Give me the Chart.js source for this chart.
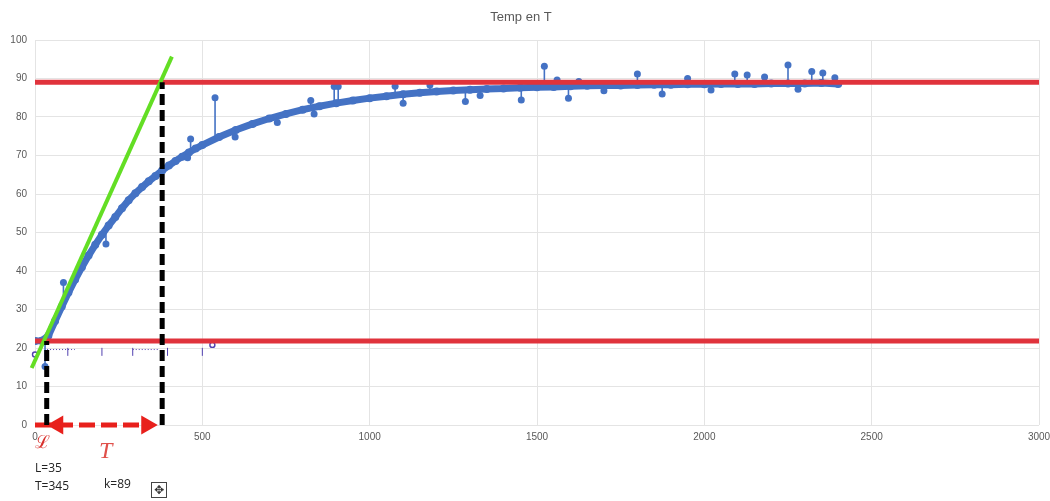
<!DOCTYPE html>
<html>
<head>
<meta charset="utf-8">
<title>Temp en T</title>
<script src="https://cdn.jsdelivr.net/npm/chart.js@4.4.1/dist/chart.umd.min.js"></script>
<style>
  html, body { margin: 0; padding: 0; background: #fff; }
  #wrap { position: relative; width: 1050px; height: 501px; overflow: hidden; }
  #chart { position: absolute; left: 0; top: 0; }
  .note { position: absolute; font: 12px "Open Sans", sans-serif; color: #222; }
  .hand { position: absolute; color: #d8302c; font-family: "Liberation Serif", serif; line-height: 1; }
  #move { position: absolute; left: 151px; top: 482px; width: 14px; height: 14px;
          border: 1px solid #444; font: 12px "DejaVu Sans", sans-serif; line-height: 14px;
          text-align: center; color: #333; }
</style>
</head>
<body>
<div id="wrap">
  <canvas id="chart" width="1050" height="501"></canvas>
  <div class="hand" style="left:35px;top:433px;font-size:18px;">ℒ</div>
  <div class="hand" style="left:99px;top:438px;font-size:24px;font-style:italic;color:#e0504a;">T</div>
  <div class="note" style="left:35px;top:459px;">L=35</div>
  <div class="note" style="left:35px;top:477px;">T=345</div>
  <div class="note" style="left:104px;top:475px;">k=89</div>
  <div id="move">✥</div>
</div>
<script>
/* Temp en T: step response with tangent construction (L, T, k). */

const L = 35;        // dead time
const T = 345;       // time constant
const K = 89;        // final value
const START = 21.8;  // initial temperature

// smooth part of the measured curve
const bandX = [0, 20, 40, 60, 80, 100, 120, 140, 160, 180, 200, 220, 240, 260, 280,
  300, 320, 340, 360, 380, 400, 420, 440, 460, 480, 500, 550, 600, 650, 700, 750,
  800, 850, 900, 950, 1000, 1050, 1100, 1150, 1200, 1250, 1300, 1350, 1400, 1450,
  1500, 1550, 1600, 1650, 1700, 1750, 1800, 1850, 1900, 1950, 2000, 2050, 2100,
  2150, 2200, 2250, 2300, 2350, 2400];
const bandY = [21.8, 21.9, 23.2, 27.0, 30.8, 34.4, 37.8, 41.0, 44.0, 46.8, 49.4,
  51.8, 54.0, 56.3, 58.4, 60.2, 61.8, 63.3, 64.7, 66.1, 67.4, 68.6, 69.7, 70.8,
  71.8, 72.7, 74.8, 76.6, 78.2, 79.6, 80.8, 81.9, 82.8, 83.6, 84.3, 84.9, 85.4,
  85.9, 86.3, 86.6, 86.9, 87.1, 87.3, 87.4, 87.6, 87.7, 87.8, 88.0, 88.1, 88.2,
  88.2, 88.3, 88.4, 88.4, 88.5, 88.5, 88.6, 88.6, 88.6, 88.7, 88.7, 88.7, 88.8, 88.6];

// isolated outliers (spikes up and dips down)
const spikeX = [30, 85, 212, 456, 465, 538, 598, 724, 824, 834, 894, 906, 1076,
  1100, 1180, 1286, 1330, 1453, 1522, 1560, 1594, 1625, 1700, 1800, 1874, 1950,
  2020, 2091, 2128, 2180, 2250, 2280, 2321, 2354, 2390];
const spikeBase = [22.3, 31.8, 50.8, 70.6, 71.0, 74.3, 76.5, 80.2, 82.3, 82.5,
  83.5, 83.7, 85.6, 85.9, 86.4, 87.0, 87.2, 87.6, 87.8, 87.9, 88.0, 88.1, 88.2,
  88.3, 88.4, 88.5, 88.6, 88.6, 88.6, 88.7, 88.7, 88.7, 88.7, 88.8, 88.7];
const spikeTop = [15.2, 37.0, 47.0, 69.4, 74.3, 85.0, 74.8, 78.6, 84.3, 80.8,
  87.9, 87.9, 88.0, 83.6, 88.3, 84.0, 85.6, 84.4, 93.2, 89.6, 84.9, 89.2, 86.8,
  91.2, 86.0, 90.0, 87.0, 91.2, 90.9, 90.4, 93.5, 87.2, 91.8, 91.4, 90.2];

// tangent at the inflection
const tangentX = [-10, 409];
const tangentY = [14.8, 95.7];

// leftover Excel marks near the start level
const purpleDashX = [36, 119, null, 292, 372];
const purpleTickX = [98, 200, 292, 396, 500];
const purpleRingX = [0, 530];
const purpleRingY = [18.3, 20.8];

const arrowHeadX = [68, 334];

const xTicks = { min: 0, max: 3000, step: 500 };
const yTicks = { min: 0, max: 100, step: 10 };

const BLUE = "#4472C4";
const RED = "#E0333C";
const PURPLE = "#5140B0";
const AXIS_FONT = { family: "'Liberation Sans', Arial, sans-serif", size: 10 };

const pts = (xs, ys) => xs.map((x, i) => ({ x, y: ys[i] }));

function spikePoints() {
  const out = [];
  spikeX.forEach((x, i) => {
    out.push({ x, y: spikeBase[i] }, { x, y: spikeTop[i], tip: true }, { x, y: null });
  });
  return out;
}

function vline(x, top) {
  return [{ x, y: 0 }, { x, y: top }];
}

const datasets = [
  { label: "L", data: vline(L, START), order: 0, showLine: true,
    borderColor: "#000", borderWidth: 5, borderDash: [11, 5], pointRadius: 0 },
  { label: "L+T", data: vline(L + T, K), order: 0, showLine: true,
    borderColor: "#000", borderWidth: 5, borderDash: [11, 5], pointRadius: 0 },
  { label: "span", data: [{ x: 0, y: 0 }, { x: L + T - 40, y: 0 }], order: 1,
    showLine: true, clip: false, borderColor: "#E8201C", borderWidth: 5,
    borderDash: [16, 6], pointRadius: 0 },
  { label: "heads", data: arrowHeadX.map((x) => ({ x, y: 0 })), order: 1,
    clip: false, pointStyle: "triangle", pointRadius: 11, pointRotation: [270, 90],
    backgroundColor: "#E8201C", borderColor: "#E8201C", borderWidth: 0 },
  { label: "tangent", data: pts(tangentX, tangentY), order: 2, showLine: true,
    clip: false, borderColor: "#63DE24", borderWidth: 4, pointRadius: 0 },
  { label: "k", data: [{ x: 0, y: K }, { x: 3000, y: K }], order: 3, showLine: true,
    borderColor: RED, borderWidth: 5, pointRadius: 0 },
  { label: "start", data: [{ x: 0, y: START }, { x: 3000, y: START }], order: 3,
    showLine: true, clip: false, borderColor: RED, borderWidth: 5, pointRadius: 0 },
  { label: "spikes", data: spikePoints(), order: 4, showLine: true, spanGaps: false,
    borderColor: BLUE, borderWidth: 1.6, backgroundColor: BLUE,
    pointRadius: (c) => (c.raw && c.raw.tip ? 3.5 : 0), pointBorderWidth: 0 },
  { label: "Temp", data: pts(bandX, bandY), order: 5, showLine: true,
    borderColor: BLUE, borderWidth: 7, backgroundColor: BLUE,
    pointRadius: 4, pointBorderWidth: 0 },
  { label: "pdash", data: purpleDashX.map((x) => ({ x, y: x === null ? null : 19.6 })),
    order: 6, showLine: true, spanGaps: false, borderColor: PURPLE, borderWidth: 1,
    borderDash: [1, 2], pointRadius: 0 },
  { label: "pticks", data: purpleTickX.map((x) => ({ x, y: 19.0 })), order: 6,
    pointStyle: "line", pointRotation: 90, pointRadius: 4, borderColor: PURPLE,
    borderWidth: 1 },
  { label: "prings", data: pts(purpleRingX, purpleRingY), order: 6, clip: false,
    pointRadius: 2.5, borderColor: PURPLE, backgroundColor: "#fff", borderWidth: 1.4 },
];

new Chart(document.getElementById("chart"), {
  type: "scatter",
  data: { datasets },
  options: {
    responsive: false,
    devicePixelRatio: 1,
    animation: false,
    layout: { padding: { left: 0, right: 8, top: 0, bottom: 0 } },
    plugins: {
      legend: { display: false },
      tooltip: { enabled: false },
      title: {
        display: true,
        text: "Temp en T",
        color: "#595959",
        font: { family: "'Liberation Sans', Arial, sans-serif", size: 13, weight: "normal" },
        padding: { top: 10, bottom: 14.4 },
      },
    },
    scales: {
      x: {
        type: "linear",
        min: xTicks.min, max: xTicks.max,
        ticks: { stepSize: xTicks.step, color: "#595959", font: AXIS_FONT, padding: 6,
                 maxRotation: 0, callback: (v) => String(v) },
        grid: { color: "#E4E4E4", drawTicks: false },
        border: { display: false },
        afterFit(s) { s.height = 76; s.paddingLeft = 0; s.paddingRight = 0; },
      },
      y: {
        min: yTicks.min, max: yTicks.max,
        ticks: { stepSize: yTicks.step, color: "#595959", font: AXIS_FONT, padding: 8 },
        grid: { color: "#E4E4E4", drawTicks: false },
        border: { display: false },
        afterFit(s) { s.width = 35; },
      },
    },
  },
});
</script>
</body>
</html>
